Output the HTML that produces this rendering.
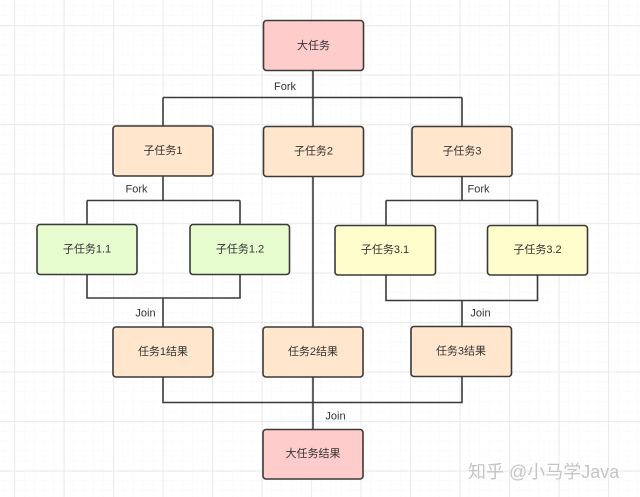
<!DOCTYPE html>
<html><head><meta charset="utf-8"><style>
html,body{margin:0;padding:0;background:#fff;}
svg{display:block;}
text{font-family:"Liberation Sans","Noto Sans CJK SC",sans-serif;fill:#333;}
</style></head><body>
<svg width="640" height="497" viewBox="0 0 640 497" xmlns="http://www.w3.org/2000/svg">
<defs>
<pattern id="minor" x="14" y="25" width="9.9" height="9.9" patternUnits="userSpaceOnUse">
<path d="M0 0V9.9M0 0H9.9" stroke="#f7f7f7" stroke-width="1" fill="none"/>
</pattern>
<pattern id="major" x="14" y="25" width="49.5" height="49.5" patternUnits="userSpaceOnUse">
<path d="M0.5 0V49.5M0 0.5H49.5" stroke="#ebebeb" stroke-width="1.2" fill="none"/>
</pattern>
</defs>
<rect width="640" height="497" fill="#fff"/>
<rect width="640" height="497" fill="url(#minor)"/>
<rect width="640" height="497" fill="url(#major)"/>

<g stroke="#3a3a3a" stroke-width="1.6" fill="none">
<!-- top fork -->
<path d="M313 71V126"/>
<path d="M163 97.5H462"/>
<path d="M163 97.5V126M462 97.5V126"/>
<!-- left fork -->
<path d="M163 176V200.5M87 200.5H240M87 200.5V224M240 200.5V224"/>
<!-- right fork -->
<path d="M462 176V200.5M386 200.5H537.5M386 200.5V225M537.5 200.5V225"/>
<!-- left join -->
<path d="M87 274V298H240V274M163 298V327"/>
<!-- right join -->
<path d="M386 275V300.5H537.5V275M462 300.5V326"/>
<!-- middle -->
<path d="M313 176V327"/>
<!-- bottom join -->
<path d="M163 377V402.5H462V377M313 377V429"/>
</g>

<g stroke="#3a3a3a" stroke-width="1.6">
<rect x="263.5" y="20.5" width="100" height="50" rx="3" fill="#ffcccc"/>
<rect x="113" y="126" width="100" height="50" rx="3" fill="#ffe6cc"/>
<rect x="263.5" y="126.5" width="100" height="50" rx="3" fill="#ffe6cc"/>
<rect x="412" y="126.5" width="100" height="50" rx="3" fill="#ffe6cc"/>
<rect x="37" y="224.5" width="100" height="50" rx="3" fill="#e6fccf"/>
<rect x="190" y="224.5" width="99.5" height="50" rx="3" fill="#e6fccf"/>
<rect x="335" y="225.5" width="100.5" height="49.5" rx="3" fill="#fffdcc"/>
<rect x="487.5" y="225.5" width="100" height="49.5" rx="3" fill="#fffdcc"/>
<rect x="113" y="327" width="100" height="50" rx="3" fill="#ffe6cc"/>
<rect x="263" y="327" width="100" height="50" rx="3" fill="#ffe6cc"/>
<rect x="411" y="326.5" width="100.5" height="50" rx="3" fill="#ffe6cc"/>
<rect x="263" y="429.5" width="100" height="49.5" rx="3" fill="#ffcccc"/>
</g>

<g font-size="11" text-anchor="middle" dominant-baseline="central">
<text x="313.5" y="46">大任务</text>
<text x="163" y="151">子任务1</text>
<text x="313.5" y="151.5">子任务2</text>
<text x="462" y="151.5">子任务3</text>
<text x="87" y="249.5">子任务1.1</text>
<text x="240" y="249.5">子任务1.2</text>
<text x="385" y="250">子任务3.1</text>
<text x="537.5" y="250">子任务3.2</text>
<text x="163" y="352">任务1结果</text>
<text x="313" y="352">任务2结果</text>
<text x="461" y="351.5">任务3结果</text>
<text x="313" y="454">大任务结果</text>

<text x="285" y="87">Fork</text>
<text x="136.5" y="189.5">Fork</text>
<text x="478.5" y="189.5">Fork</text>
<text x="145.5" y="313.5">Join</text>
<text x="480.5" y="313.5">Join</text>
<text x="335.5" y="416.5">Join</text>
</g>

<text x="468" y="472" font-size="18" dominant-baseline="central" style="fill:#c4c4c4;stroke:#ffffff;stroke-width:0.6;paint-order:stroke">知乎 @小马学Java</text>
</svg>
</body></html>
